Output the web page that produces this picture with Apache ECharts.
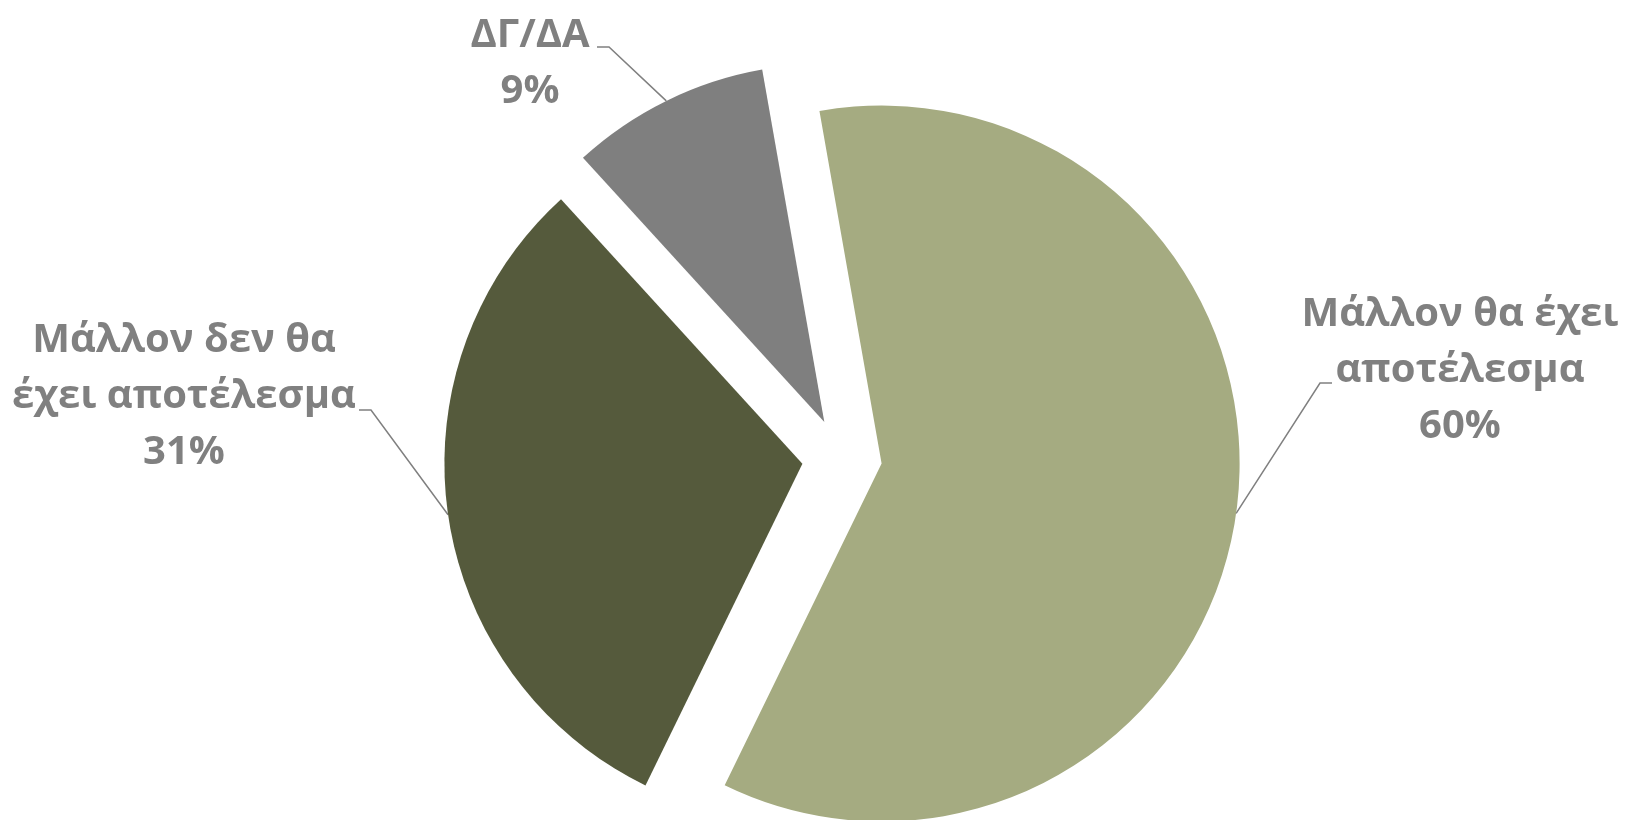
<!DOCTYPE html>
<html>
<head>
<meta charset="utf-8">
<script src="https://cdn.jsdelivr.net/npm/echarts@6/dist/echarts.min.js"></script>
<style>
html,body{margin:0;padding:0;background:#fff;}
#chart{width:1627px;height:820px;}
</style>
</head>
<body>
<div id="chart"></div>
<script>
// ---- data ----
const categories = ['Μάλλον θα έχει αποτέλεσμα', 'Μάλλον δεν θα έχει αποτέλεσμα', 'ΔΓ/ΔΑ'];
const labelTexts = ['Μάλλον θα έχει\nαποτέλεσμα', 'Μάλλον δεν θα\nέχει αποτέλεσμα', 'ΔΓ/ΔΑ'];
const values = [60, 31, 9];
const colors = ['#A5AB81', '#555A3C', '#7F7F7F'];

// ---- layout settings ----
const START_ANGLE = 100;
const CENTER = [842, 458];
const RADIUS = 358;
const EXPLODE = 40;
// label centre positions and leader-line end (relative to label centre)
const labelPos = [[1460, 371], [184, 397], [530, 64]];
const lineEnd = [[-128, 12], [175, 13], [67, -17]];
const elbowDir = [-1, 1, 1];
const ELBOW = 12;

const total = values.reduce((a, b) => a + b, 0);
function midAngle(i) {
  let cum = 0;
  for (let k = 0; k < i; k++) cum += values[k];
  return (-START_ANGLE + (cum + values[i] / 2) / total * 360) * Math.PI / 180;
}

const labelStyle = {
  show: true,
  position: 'outside',
  fontFamily: 'Open Sans',
  fontWeight: 'bold',
  fontSize: 40,
  lineHeight: 56,
  color: '#808080',
  align: 'center',
  formatter: p => labelTexts[p.dataIndex] + '\n' + Math.round(p.percent) + '%'
};

const chart = echarts.init(document.getElementById('chart'));
chart.setOption({
  animation: false,
  backgroundColor: '#ffffff',
  series: [
    {
      // exploded slices
      type: 'pie',
      center: CENTER,
      radius: RADIUS,
      startAngle: START_ANGLE,
      clockwise: true,
      selectedMode: 'multiple',
      selectedOffset: EXPLODE,
      emphasis: { scale: false },
      itemStyle: { borderWidth: 0 },
      label: { show: false },
      labelLine: { show: false },
      data: categories.map((c, i) => ({
        name: c,
        value: values[i],
        selected: true,
        itemStyle: { color: colors[i] }
      }))
    },
    {
      // labels with leader lines
      type: 'pie',
      silent: true,
      center: CENTER,
      radius: RADIUS,
      startAngle: START_ANGLE,
      clockwise: true,
      selectedMode: false,
      avoidLabelOverlap: false,
      emphasis: { disabled: true },
      itemStyle: { color: 'rgba(0,0,0,0)', borderWidth: 0 },
      label: labelStyle,
      labelLine: {
        show: true,
        lineStyle: { color: '#808080', width: 1.5 }
      },
      data: categories.map((c, i) => ({ name: c, value: values[i] })),
      labelLayout: function (params) {
        const i = params.dataIndex;
        const a = midAngle(i);
        const ox = EXPLODE * Math.cos(a), oy = EXPLODE * Math.sin(a);
        const lx = labelPos[i][0], ly = labelPos[i][1];
        const ex = lx + lineEnd[i][0], ey = ly + lineEnd[i][1];
        const bx = ex + elbowDir[i] * ELBOW;
        const p0 = params.labelLinePoints[0];
        return {
          x: lx,
          y: ly,
          align: 'center',
          verticalAlign: 'middle',
          labelLinePoints: [[p0[0] + ox, p0[1] + oy], [bx, ey], [ex, ey]]
        };
      }
    }
  ]
});
</script>
</body>
</html>
